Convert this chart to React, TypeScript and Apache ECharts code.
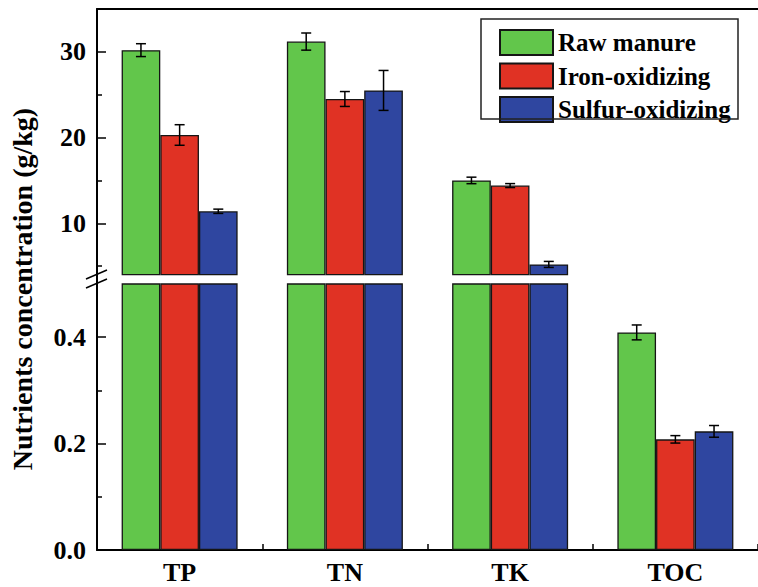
import React, { useEffect, useRef } from "react";
import * as echarts from "echarts";

const categories = ["TP", "TN", "TK", "TOC"];
const seriesNames = ["Raw manure", "Iron-oxidizing", "Sulfur-oxidizing"];
const rawManure = [30.2, 31.2, 15.0, 0.409];
const rawManureErr = [0.75, 1.0, 0.38, 0.014];
const ironOxidizing = [20.3, 24.5, 14.4, 0.208];
const ironOxidizingErr = [1.2, 0.87, 0.23, 0.007];
const sulfurOxidizing = [11.4, 25.5, 5.2, 0.223];
const sulfurOxidizingErr = [0.25, 2.33, 0.35, 0.011];
const upperMajorTicks = [10, 20, 30];
const upperMinorTicks = [5, 15, 25];
const lowerLabelTicks = [0, 0.2, 0.4];
const lowerMajorTicks = [0.2, 0.4];
const lowerMinorTicks = [0.1, 0.3];

const UPPER_MIN = 4;
const UPPER_MAX = 35;
const LOWER_MIN = 0;
const LOWER_MAX = 0.5;

const colors = ["#62C64B", "#E03224", "#2F46A0"];
const FONT = "'Liberation Serif', 'Times New Roman', serif";
const BAR_FRAC = 0.234;

const values = [rawManure, ironOxidizing, sulfurOxidizing];
const errors = [rawManureErr, ironOxidizingErr, sulfurOxidizingErr];

function makeErr(s: number, grid: number) {
  const lo = grid === 0 ? UPPER_MIN : LOWER_MIN;
  const hi = grid === 0 ? UPPER_MAX : LOWER_MAX;
  return {
    type: "custom",
    xAxisIndex: grid === 0 ? 0 : 1,
    yAxisIndex: grid === 0 ? 0 : 2,
    z: 5,
    silent: true,
    data: values[s]
      .map((v, i) => [i, v, errors[s][i]])
      .filter((d) => d[1] >= lo && d[1] <= hi),
    renderItem: (_params: any, api: any) => {
      const ci = api.value(0);
      const v = api.value(1);
      const e = api.value(2);
      const bw = api.size([1, 0])[0] * BAR_FRAC;
      const c = api.coord([ci, v]);
      const x = c[0] + (s - 1) * bw;
      const yTop = api.coord([ci, v + e])[1];
      const yBot = api.coord([ci, v - e])[1];
      const half = 5;
      const style = { stroke: "#000", lineWidth: 1.5 };
      return {
        type: "group",
        children: [
          { type: "line", shape: { x1: x, y1: yTop, x2: x, y2: yBot }, style },
          { type: "line", shape: { x1: x - half, y1: yTop, x2: x + half, y2: yTop }, style },
          { type: "line", shape: { x1: x - half, y1: yBot, x2: x + half, y2: yBot }, style },
        ],
      };
    },
  };
}

function makeBar(s: number, grid: number) {
  const data =
    grid === 0
      ? values[s].map((v) => (v >= UPPER_MIN ? v : "-"))
      : values[s].slice();
  return {
    type: "bar",
    name: seriesNames[s],
    xAxisIndex: grid === 0 ? 0 : 1,
    yAxisIndex: grid === 0 ? 0 : 2,
    barWidth: BAR_FRAC * 100 + "%",
    barGap: "0%",
    clip: true,
    itemStyle: { color: colors[s], borderColor: "#151515", borderWidth: 1.3 },
    data,
  };
}

export default function App() {
  const ref = useRef<HTMLDivElement>(null);
  useEffect(() => {
    if (!ref.current) return;
    const chart = echarts.init(ref.current, null, { renderer: "svg" });
    const labelStyle = { fontFamily: FONT, fontWeight: "bold", fontSize: 26, color: "#000" };
    const option: any = {
      animation: false,
      backgroundColor: "#fff",
      grid: [
        { left: 97, top: 9, width: 663, height: 265.7 },
        { left: 97, top: 284, width: 663, height: 266 },
      ],
      xAxis: [
        {
          type: "category",
          gridIndex: 0,
          data: categories,
          position: "top",
          axisLine: { show: true, lineStyle: { color: "#000", width: 2 } },
          axisTick: { show: false },
          axisLabel: { show: false },
        },
        {
          type: "category",
          gridIndex: 1,
          data: categories,
          position: "bottom",
          axisLine: { show: true, lineStyle: { color: "#000", width: 2 } },
          axisTick: { show: true, inside: true, length: 6, alignWithLabel: false, lineStyle: { color: "#000", width: 1.5 } },
          axisLabel: { ...labelStyle, fontSize: 26, margin: 9 },
        },
        {
          type: "category",
          gridIndex: 1,
          data: categories,
          position: "bottom",
          offset: 0,
          axisLine: { show: false },
          axisTick: { show: true, inside: true, length: 6, alignWithLabel: true, lineStyle: { color: "#000", width: 1.5 } },
          axisLabel: { show: false },
        },
      ],
      yAxis: [
        {
          type: "value",
          gridIndex: 0,
          min: UPPER_MIN,
          max: UPPER_MAX,
          position: "left",
          splitLine: { show: false },
          axisLine: { show: true, lineStyle: { color: "#000", width: 2 } },
          axisTick: { show: true, inside: true, length: 9, customValues: upperMajorTicks, lineStyle: { color: "#000", width: 1.5 } },
          axisLabel: { ...labelStyle, margin: 11, customValues: upperMajorTicks },
        },
        {
          type: "value",
          gridIndex: 0,
          min: UPPER_MIN,
          max: UPPER_MAX,
          position: "left",
          offset: 0,
          splitLine: { show: false },
          axisLine: { show: false },
          axisTick: { show: true, inside: true, length: 5, customValues: upperMinorTicks, lineStyle: { color: "#000", width: 1.5 } },
          axisLabel: { show: false },
        },
        {
          type: "value",
          gridIndex: 1,
          min: LOWER_MIN,
          max: LOWER_MAX,
          position: "left",
          splitLine: { show: false },
          axisLine: { show: true, lineStyle: { color: "#000", width: 2 } },
          axisTick: { show: true, inside: true, length: 9, customValues: lowerMajorTicks, lineStyle: { color: "#000", width: 1.5 } },
          axisLabel: {
            ...labelStyle,
            margin: 11,
            customValues: lowerLabelTicks,
            formatter: (v: number) => v.toFixed(1),
          },
        },
        {
          type: "value",
          gridIndex: 1,
          min: LOWER_MIN,
          max: LOWER_MAX,
          position: "left",
          offset: 0,
          splitLine: { show: false },
          axisLine: { show: false },
          axisTick: { show: true, inside: true, length: 5, customValues: lowerMinorTicks, lineStyle: { color: "#000", width: 1.5 } },
          axisLabel: { show: false },
        },
      ],
      legend: {
        data: seriesNames,
        orient: "vertical",
        left: 499,
        top: 29,
        padding: 0,
        itemWidth: 53,
        itemHeight: 25,
        itemGap: 6.5,
        icon: "rect",
        textStyle: { fontFamily: FONT, fontWeight: "bold", fontSize: 25, color: "#000" },
      },
      graphic: [
        {
          type: "rect",
          shape: { x: 481, y: 19, width: 257, height: 100 },
          style: { fill: "none", stroke: "#222", lineWidth: 1.5 },
          z: 10,
        },
        {
          type: "line",
          shape: { x1: 97, y1: 274, x2: 97, y2: 285 },
          style: { stroke: "#000", lineWidth: 2 },
          z: 10,
        },
        {
          type: "line",
          shape: { x1: 86, y1: 279, x2: 107, y2: 270 },
          style: { stroke: "#000", lineWidth: 1.5 },
          z: 10,
        },
        {
          type: "line",
          shape: { x1: 86, y1: 288, x2: 107, y2: 279 },
          style: { stroke: "#000", lineWidth: 1.5 },
          z: 10,
        },
        {
          type: "text",
          x: 22,
          y: 289,
          rotation: Math.PI / 2,
          style: {
            text: "Nutrients concentration (g/kg)",
            fontFamily: FONT,
            fontWeight: "bold",
            fontSize: 28,
            fill: "#000",
            align: "center",
            verticalAlign: "middle",
          },
        },
      ],
      series: [
        makeBar(0, 0), makeBar(1, 0), makeBar(2, 0),
        makeBar(0, 1), makeBar(1, 1), makeBar(2, 1),
        makeErr(0, 0), makeErr(1, 0), makeErr(2, 0),
        makeErr(0, 1), makeErr(1, 1), makeErr(2, 1),
      ],
    };
    chart.setOption(option);
    return () => chart.dispose();
  }, []);
  return (
    <div
      ref={ref}
      style={{ position: "absolute", left: 0, top: 0, width: 758, height: 587 }}
    />
  );
}
